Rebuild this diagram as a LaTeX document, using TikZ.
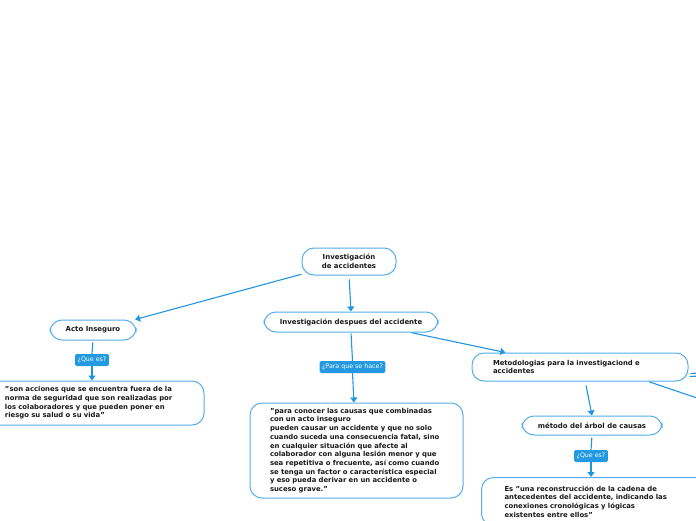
\documentclass[tikz,border=0pt]{standalone}
\usepackage{fontspec}
\setmainfont{DejaVu Sans}
\usetikzlibrary{arrows.meta}
\definecolor{lineblue}{HTML}{2196E0}
\definecolor{boxblue}{HTML}{55AEEB}
\definecolor{lblblue}{HTML}{2299E0}
\begin{document}
\begin{tikzpicture}[x=1pt,y=-1pt,
 box/.style={draw=boxblue,line width=1pt,rounded corners=12pt,fill=white,text=black!90,
   font=\fontsize{6.85}{8.7}\selectfont\bfseries,inner sep=0pt},
 ttl/.style={box,font=\fontsize{6.95}{8.7}\selectfont\bfseries},
 lbl/.style={fill=lblblue,text=white,rounded corners=1.5pt,font=\fontsize{6.3}{6.5}\selectfont,
   inner xsep=2.5pt,inner ysep=0pt,minimum height=12pt},
 conn/.style={draw=lineblue,line width=1.1pt},
 arr/.style={conn,-{Triangle[width=7pt,length=5pt]}}
]
\useasboundingbox (0,0) rectangle (696,520);
\clip (0,0) rectangle (696,520);

\node[ttl,minimum width=94pt,minimum height=27pt,align=center] (root) at (349,261.5) {Investigación\\de accidentes};
\node[ttl,minimum width=174pt,minimum height=20pt] (desp) at (351,322) {Investigación despues del accidente};
\node[ttl,minimum width=86pt,minimum height=20pt] (acto) at (93,330) {Acto Inseguro};
\node[lbl] (q1) at (92,360) {¿Que es?};
\node[box,minimum width=218pt,minimum height=44pt,text width=180pt,align=left] (son) at (95,403)
 {"son acciones que se encuentra fuera de la\\norma de seguridad que son realizadas por\\los colaboradores y que pueden poner en\\riesgo su salud o su vida"};
\node[lbl] (q2) at (352.5,367) {¿Para que se hace?};
\node[box,minimum width=213pt,minimum height=95pt,text width=173pt,align=left] (para) at (356.5,450.5)
 {"para conocer las causas que combinadas\\con un acto inseguro\\pueden causar un accidente y que no solo\\cuando suceda una consecuencia fatal, sino\\en cualquier situación que afecte al\\colaborador con alguna lesión menor y que\\sea repetitiva o frecuente, así como cuando\\se tenga un factor o característica especial\\y eso pueda derivar en un accidente o\\suceso grave."};
\node[box,minimum width=216pt,minimum height=28pt,text width=174pt,align=left] (meto) at (580,367)
 {Metodologias para la investigaciond e\\accidentes};
\node[ttl,minimum width=140pt,minimum height=19pt] (arbol) at (592,425.5) {método del árbol de causas};
\node[lbl] (q3) at (591,456) {¿Que es?};
\node[box,minimum width=240pt,minimum height=48pt,text width=194pt,align=left,anchor=north west] (es) at (481,477)
 {Es "una reconstrucción de la cadena de\\antecedentes del accidente, indicando las\\conexiones cronológicas y lógicas\\existentes entre ellos"};

\coordinate (r1) at (700,399);
\coordinate (r2) at (700,373);
\coordinate (r3) at (700,376);

\draw[arr] (root.195) -- (acto.14);
\draw[arr,shorten <=4pt] (root.south) -- (desp.north);
\draw[arr,shorten <=1pt] (desp.-10.3) -- (meto.169);
\draw[conn,shorten <=2pt] (acto.south) -- (q1.north);
\draw[arr] (q1.south) -- (q1.south |- son.north);
\draw[conn,shorten <=1pt] (desp.south) -- (q2.north);
\draw[arr] (q2.south) -- ([xshift=1.5pt]q2.south |- para.north);
\draw[arr,shorten <=4pt] (meto.-70) -- (arbol.north);
\draw[conn,shorten <=2pt] (arbol.south) -- (q3.north);
\draw[arr] (q3.south) -- (q3.south |- es.north);
\draw[conn,shorten <=1pt] (meto.-12.9) -- (r1);
\draw[conn] ([xshift=2pt,yshift=-6.5pt]meto.east) -- (r2);
\draw[conn] ([xshift=1pt,yshift=-9.5pt]meto.east) -- (r3);
\end{tikzpicture}
\end{document}
